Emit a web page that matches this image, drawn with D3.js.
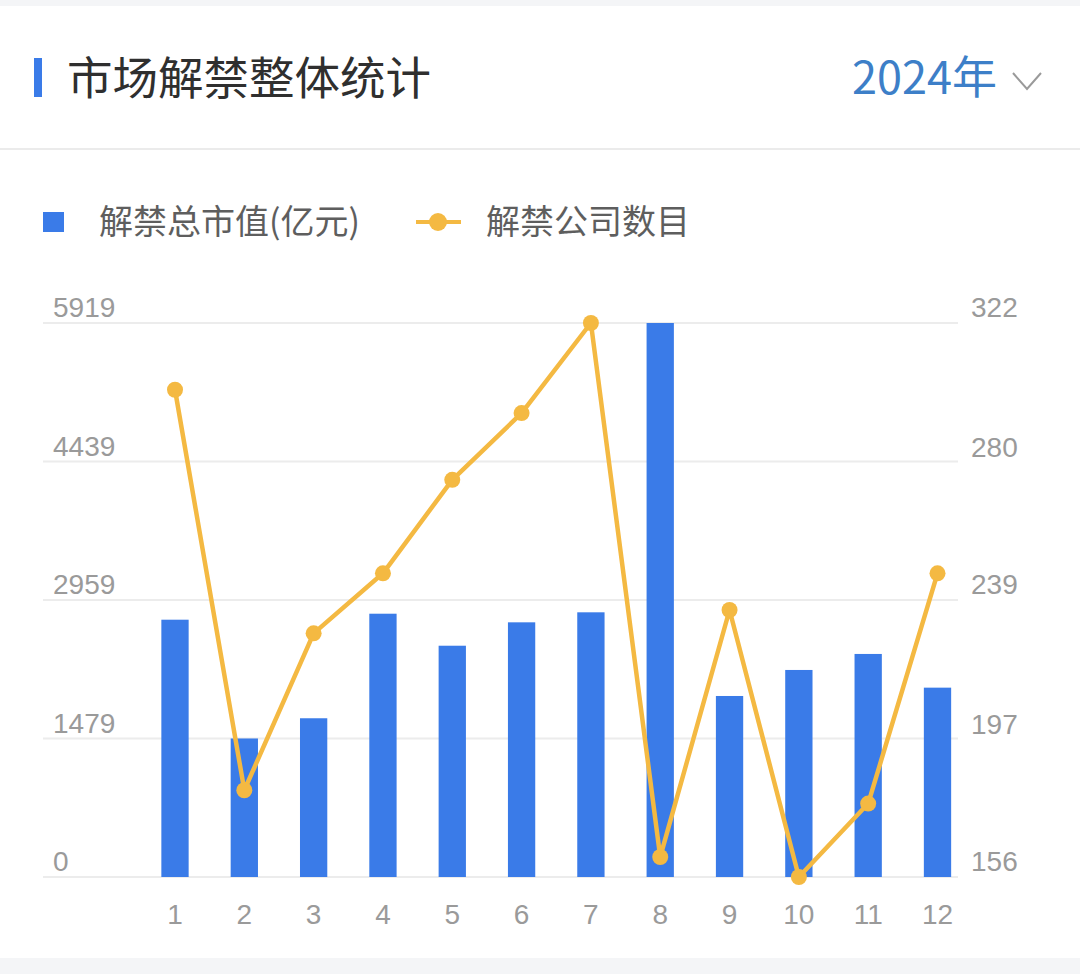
<!DOCTYPE html>
<html>
<head>
<meta charset="utf-8">
<script src="https://cdn.jsdelivr.net/npm/d3@7"></script>
<style>
  html, body { margin: 0; padding: 0; background: #ffffff; }
  svg { display: block; }
  text { font-family: "Noto Sans CJK SC", "Noto Sans", sans-serif; }
  .num { font-family: "Liberation Sans", "Noto Sans", sans-serif; }
</style>
</head>
<body>
<svg id="chart" width="1080" height="974"></svg>
<script>
// ---- data ----
const title = "市场解禁整体统计";
const yearLabel = "2024年";
const months = ["1","2","3","4","5","6","7","8","9","10","11","12"];
const barName = "解禁总市值(亿元)";
const lineName = "解禁公司数目";
const marketValue = [2749, 1480, 1696, 2813, 2471, 2721, 2828, 5919, 1934, 2212, 2383, 2023];
const companyCount = [302, 182, 229, 247, 275, 295, 322, 162, 236, 156, 178, 247];
const leftTicks = [0, 1479, 2959, 4439, 5919];
const rightTicks = [156, 197, 239, 280, 322];

// ---- styles ----
const BLUE = "#3a7be8";
const ORANGE = "#f4b942";
const GRID = "#ececec";
const AXIS_TEXT = "#9a9a9a";

const svg = d3.select("#chart");

// page background strips
svg.append("rect").attr("x", 0).attr("y", 0).attr("width", 1080).attr("height", 974).attr("fill", "#ffffff");
svg.append("rect").attr("x", 0).attr("y", 0).attr("width", 1080).attr("height", 6).attr("fill", "#f4f5f7");
svg.append("rect").attr("x", 0).attr("y", 958).attr("width", 1080).attr("height", 16).attr("fill", "#f4f5f7");

// header
svg.append("rect").attr("x", 34).attr("y", 58).attr("width", 8).attr("height", 39).attr("fill", "#3a7be8");
svg.append("text").attr("x", 67).attr("y", 95)
  .attr("font-size", 45.5).attr("fill", "#2f2f2f").text(title);
svg.append("text").attr("x", 997).attr("y", 94).attr("text-anchor", "end")
  .attr("font-size", 45).attr("fill", "#3d7fc8").text(yearLabel);
svg.append("path").attr("d", "M1013,73 L1027,89 L1041,73")
  .attr("fill", "none").attr("stroke", "#9a9a9a").attr("stroke-width", 2);
svg.append("line").attr("x1", 0).attr("x2", 1080).attr("y1", 149).attr("y2", 149)
  .attr("stroke", "#ebebeb").attr("stroke-width", 2);

// legend
svg.append("rect").attr("x", 43).attr("y", 212).attr("width", 21).attr("height", 20).attr("fill", BLUE);
svg.append("text").attr("x", 99).attr("y", 234).attr("font-size", 34).attr("fill", "#5e5e5e").text(barName);
svg.append("line").attr("x1", 416).attr("x2", 461).attr("y1", 222).attr("y2", 222)
  .attr("stroke", ORANGE).attr("stroke-width", 4);
svg.append("circle").attr("cx", 438).attr("cy", 222).attr("r", 9).attr("fill", ORANGE);
svg.append("text").attr("x", 486).attr("y", 234).attr("font-size", 34).attr("fill", "#5e5e5e").text(lineName);

// scales
const x = d3.scalePoint().domain(months).range([175, 937.5]);
const yL = d3.scaleLinear().domain([0, 5919]).range([877, 323]);
const yR = d3.scaleLinear().domain([156, 322]).range([877, 323]);
const barW = 27.3;

// grid lines
svg.append("g").selectAll("line").data(leftTicks).join("line")
  .attr("x1", 43).attr("x2", 958)
  .attr("y1", d => yL(d)).attr("y2", d => yL(d))
  .attr("stroke", GRID).attr("stroke-width", 2);

// left axis labels
svg.append("g").selectAll("text").data(leftTicks).join("text")
  .attr("class", "num")
  .attr("x", 53).attr("y", d => yL(d) - 6)
  .attr("font-size", 28).attr("fill", AXIS_TEXT)
  .text(d => d);

// right axis labels
svg.append("g").selectAll("text").data(rightTicks).join("text")
  .attr("class", "num")
  .attr("x", 971).attr("y", d => yR(d) - 6)
  .attr("font-size", 28).attr("fill", AXIS_TEXT)
  .text(d => d);

// x labels
svg.append("g").selectAll("text").data(months).join("text")
  .attr("class", "num")
  .attr("x", d => x(d)).attr("y", 924).attr("text-anchor", "middle")
  .attr("font-size", 28).attr("fill", AXIS_TEXT)
  .text(d => d);

// bars
svg.append("g").selectAll("rect").data(marketValue).join("rect")
  .attr("x", (d, i) => x(months[i]) - barW / 2)
  .attr("y", d => yL(d))
  .attr("width", barW)
  .attr("height", d => yL(0) - yL(d))
  .attr("fill", BLUE);

// line
const line = d3.line().x((d, i) => x(months[i])).y(d => yR(d));
svg.append("path").datum(companyCount).attr("d", line)
  .attr("fill", "none").attr("stroke", ORANGE).attr("stroke-width", 4.5)
  .attr("stroke-linejoin", "round");
svg.append("g").selectAll("circle").data(companyCount).join("circle")
  .attr("cx", (d, i) => x(months[i])).attr("cy", d => yR(d))
  .attr("r", 8).attr("fill", ORANGE);
</script>
</body>
</html>
